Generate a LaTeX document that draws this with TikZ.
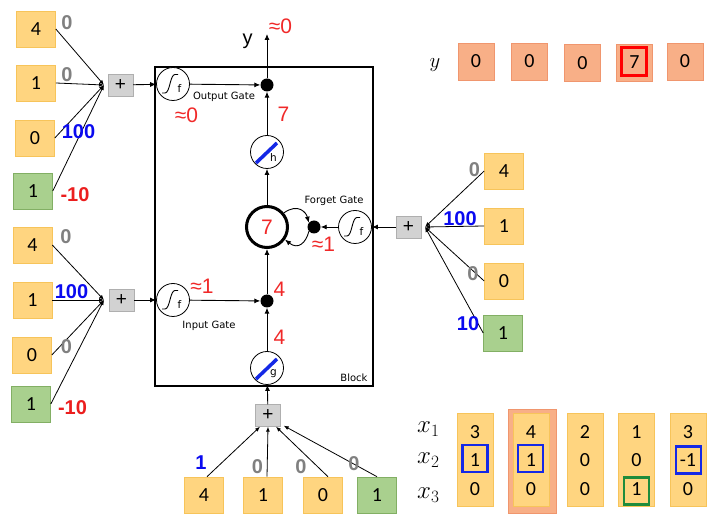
\documentclass[tikz,border=0pt]{standalone}
\usepackage{fontspec}
\setmainfont{Carlito}
\newfontfamily\labfont{Liberation Sans}
\newfontfamily\gfont{DejaVu Sans}
\usetikzlibrary{arrows.meta,calc}
\definecolor{ybfill}{RGB}{255,213,128}
\definecolor{ybdraw}{RGB}{247,196,90}
\definecolor{gbfill}{RGB}{169,208,142}
\definecolor{gbdraw}{RGB}{130,175,100}
\definecolor{sbfill}{RGB}{248,175,135}
\definecolor{sbdraw}{RGB}{240,150,110}
\definecolor{pfill}{RGB}{210,210,210}
\definecolor{pdraw}{RGB}{175,175,175}
\definecolor{labgray}{RGB}{128,128,128}
\definecolor{labblue}{RGB}{10,10,240}
\definecolor{labred}{RGB}{235,30,30}
\definecolor{numred}{RGB}{240,40,40}
\definecolor{diagblue}{RGB}{20,40,230}
\definecolor{boxgreen}{RGB}{30,140,60}
\newcommand\drawsigm[1]{%
  \draw[line width=0.9pt, shift={(#1)}] (-11,9) -- (-8,9) .. controls (-3,9) and (-3,-9.5) .. (2,-9.5) -- (5,-9.5);
  \node[font=\gfont\fontsize{10.5}{10.5}\selectfont, inner sep=0] (#1f) at ($(#1)+(6.5,4.5)$) {f};
}
\newcommand\drawdiag[2]{%
  \draw[line width=3.5pt, diagblue] ($(#1)+(-11,11)$) -- ($(#1)+(10,-9)$);
  \node[font=\gfont\fontsize{10.5}{10.5}\selectfont, inner sep=0] (#1l) at ($(#1)+(6.5,6)$) {#2};
}
\begin{document}
\begin{tikzpicture}[x=1pt,y=-1pt]
\tikzset{
 arr/.style={-{Latex[length=6pt,width=5pt]}, line width=0.9pt},
 jarr/.style={-{Latex[length=5pt,width=4pt]}, line width=0.8pt},
 ybox/.style={draw=ybdraw, fill=ybfill, line width=0.6pt, minimum width=39pt, minimum height=36pt, inner sep=0pt, font=\fontsize{20}{20}\selectfont},
 gbox/.style={ybox, draw=gbdraw, fill=gbfill},
 sbox/.style={ybox, draw=sbdraw, fill=sbfill},
 plusbox/.style={draw=pdraw, fill=pfill, minimum width=25pt, minimum height=22pt, inner sep=0, font=\labfont\fontsize{19}{19}\selectfont},
 gate/.style={circle, draw, fill=white, line width=0.8pt, minimum size=33pt, inner sep=0},
 mdot/.style={circle, fill=black, minimum size=13pt, inner sep=0},
 glab/.style={font=\labfont\bfseries\fontsize{20}{20}\selectfont, text=labgray, inner sep=0},
 blab/.style={glab, text=labblue},
 rlab/.style={glab, text=labred},
 rnum/.style={font=\labfont\fontsize{21}{21}\selectfont, text=numred, inner sep=0},
 gtxt/.style={font=\gfont\fontsize{10}{10}\selectfont, inner sep=0},
 colbox/.style={draw=ybdraw, fill=ybfill, line width=0.6pt, minimum width=36pt, minimum height=93pt, inner sep=0},
 dig/.style={font=\fontsize{20}{20}\selectfont, inner sep=0},
 bluebox/.style={draw=diagblue, line width=2.5pt, minimum width=25pt, minimum height=27pt, inner sep=0},
}
\useasboundingbox (0,0) rectangle (726,518);

% ---------- block ----------
\draw[line width=1.2pt] (155,67) rectangle (373,386);
\node[gtxt] (blocklab) at (354,378) {Block};

% gates
\node[gate] (og) at (173,84) {};
\drawsigm{og}
\node[gate] (ig) at (173,300) {};
\drawsigm{ig}
\node[gate] (fg) at (355,227) {};
\drawsigm{fg}
\node[gate] (hc) at (267,152) {};
\drawdiag{hc}{h}
\node[gate] (gc) at (267,368) {};
\drawdiag{gc}{g}

\node[mdot] (od) at (267,85) {};
\node[mdot] (id) at (267,301) {};
\node[mdot] (fd) at (314,227) {};
\node[circle, draw, fill=white, line width=3pt, minimum size=41pt, inner sep=0] (cell) at (267,227) {};
\node[rnum] (cellv) at (267,227) {7};

\node[gtxt] (oglab) at (224,97) {Output Gate};
\node[gtxt] (iglab) at (209,325.5) {Input Gate};
\node[gtxt] (fglab) at (334,201) {Forget Gate};

% internal arrows
\coordinate (ytop) at (267,34);
\draw[arr] (od) -- (ytop);
\draw[arr] (hc) -- (od);
\draw[arr] (cell) -- (hc);
\draw[arr] (id) -- (cell);
\draw[arr] (gc) -- (id);
\draw[arr] (og) -- (od);
\draw[arr] (ig) -- (id);
\draw[arr] (fg) -- (fd);
\draw[arr] (cell.40) .. controls (298,203) and (306,212) .. (fd.140);
\draw[arr] (fd.220) .. controls (306,243) and (298,250) .. (cell.-35);

\node[font=\labfont\fontsize{20}{20}\selectfont, anchor=base, inner sep=0] (ylab) at (247.5,45) {y};
\node[rnum] (r1) at (280.5,26.5) {≈0};
\node[rnum] (r2) at (283.5,114.5) {7};
\node[rnum] (r3) at (186.5,115.5) {≈0};
\node[rnum] (r4) at (323.5,244.5) {≈1};
\node[rnum] (r5) at (202,286.5) {≈1};
\node[rnum] (r6) at (279.5,289.5) {4};
\node[rnum] (r7) at (279.5,337) {4};

% ---------- left top group ----------
\node[ybox] (a1) at (36,29) {4};
\node[ybox] (a2) at (36,83) {1};
\node[ybox] (a3) at (35,138) {0};
\node[gbox] (a4) at (33,191) {1};
\coordinate (ja) at (104,85);
\draw[jarr] (a1.east) -- (ja);
\draw[jarr] (a2.east) -- (ja);
\draw[jarr] (a3.east) -- (ja);
\draw[jarr] (a4.east) -- (ja);
\node[plusbox] (pa) at (120.5,85) {+};
\draw[arr] (pa) -- (og);
\node[glab] (la1) at (67,23) {0};
\node[glab] (la2) at (67,75) {0};
\node[blab] (la3) at (78.5,131.5) {100};
\node[rlab] (la4) at (75,194.5) {-10};

% ---------- left bottom group ----------
\node[ybox] (b1) at (32.5,245) {4};
\node[ybox] (b2) at (32.5,300) {1};
\node[ybox] (b3) at (32,355) {0};
\node[gbox] (b4) at (31,404) {1};
\coordinate (jb) at (104,300);
\draw[jarr] (b1.east) -- (jb);
\draw[jarr] (b2.east) -- (jb);
\draw[jarr] (b3.east) -- (jb);
\draw[jarr] (b4.east) -- (jb);
\node[plusbox] (pb) at (121.5,300) {+};
\draw[arr] (pb) -- (ig);
\node[glab] (lb1) at (66,236.5) {0};
\node[blab] (lb2) at (71.5,291.5) {100};
\node[glab] (lb3) at (66.5,346.5) {0};
\node[rlab] (lb4) at (72.5,407.5) {-10};

% ---------- right group ----------
\node[ybox] (c1) at (504,171) {4};
\node[ybox] (c2) at (504,226) {1};
\node[ybox] (c3) at (504,281) {0};
\node[gbox] (c4) at (503,333) {1};
\coordinate (jc) at (425,227);
\draw[jarr] (c1.west) -- (jc);
\draw[jarr] (c2.west) -- (jc);
\draw[jarr] (c3.west) -- (jc);
\draw[jarr] (c4.west) -- (jc);
\node[plusbox] (pc) at (408.5,227) {+};
\draw[arr] (pc) -- (fg);
\node[glab] (lc1) at (474.5,169.5) {0};
\node[blab] (lc2) at (460,218.5) {100};
\node[glab] (lc3) at (473,273.5) {0};
\node[blab] (lc4) at (468,324) {10};

% ---------- bottom group ----------
\node[ybox] (d1) at (204,495) {4};
\node[ybox] (d2) at (263,495) {1};
\node[ybox] (d3) at (323,495) {0};
\node[gbox] (d4) at (377,495) {1};
\node[plusbox] (pd) at (268,415.5) {+};
\draw[jarr] ($(d1.north)+(3,0)$) -- ($(pd.south)+(-8,0)$);
\draw[jarr] ($(d2.north)+(4,0)$) -- ($(pd.south)+(0,0)$);
\draw[jarr] ($(d3.north)+(5,0)$) -- ($(pd.south)+(8,0)$);
\draw[jarr] ($(d4.north)+(0,0)$) -- ($(pd.south east)+(3,-1)$);
\draw[arr] (pd) -- (gc);
\node[blab] (ld1) at (201,463) {1};
\node[glab] (ld2) at (257.5,466.5) {0};
\node[glab] (ld3) at (301,466.5) {0};
\node[glab] (ld4) at (354,463.5) {0};

% ---------- y row ----------
\node[font=\fontsize{20}{20}\selectfont, inner sep=0] (ymath) at (435,65) {$y$};
\node[sbox, minimum width=36pt, minimum height=37pt] (y1) at (476,61.5) {0};
\node[sbox, minimum width=36pt, minimum height=37pt] (y2) at (529.5,61.5) {0};
\node[sbox, minimum width=36pt, minimum height=37pt] (y3) at (582.5,63) {0};
\node[sbox, minimum width=36pt, minimum height=37pt] (y4) at (634.5,62.5) {7};
\node[sbox, minimum width=36pt, minimum height=37pt] (y5) at (685,61.5) {0};
\node[draw=red, line width=2.3pt, minimum width=25pt, minimum height=28pt, inner sep=0] (y4r) at (634,61.5) {};

% ---------- x columns ----------
\node[font=\fontsize{26}{26}\selectfont, anchor=base west, inner sep=0] (x1l) at (417,433) {$x_1$};
\node[font=\fontsize{26}{26}\selectfont, anchor=base west, inner sep=0] (x2l) at (417,464) {$x_2$};
\node[font=\fontsize{26}{26}\selectfont, anchor=base west, inner sep=0] (x3l) at (417,499) {$x_3$};
\node[fill=sbfill, draw=sbdraw, line width=0.6pt, minimum width=48pt, minimum height=104pt, inner sep=0] (col2bg) at (532,461) {};
\node[colbox] (col1) at (475,459.5) {};
\node[colbox] (col2) at (531,459.5) {};
\node[colbox] (col3) at (585,459.5) {};
\node[colbox] (col4) at (636.5,459.5) {};
\node[colbox] (col5) at (688,459.5) {};
\foreach \n/\xx/\a/\b/\c in {1/475/3/1/0, 2/531/4/1/0, 3/585/2/0/0, 4/636.5/1/0/1, 5/688/3/-1/0}{
  \node[dig] (v\n a) at (\xx,432.5) {\a};
  \node[dig] (v\n b) at (\xx,460) {\b};
  \node[dig] (v\n c) at (\xx,489.5) {\c};
}
\node[bluebox] (bb1) at (475,458.5) {};
\node[bluebox] (bb2) at (530.5,458.5) {};
\node[bluebox] (bb5) at (688.5,460) {};
\node[bluebox, draw=boxgreen] (gb4) at (636.5,491) {};
\end{tikzpicture}
\end{document}
